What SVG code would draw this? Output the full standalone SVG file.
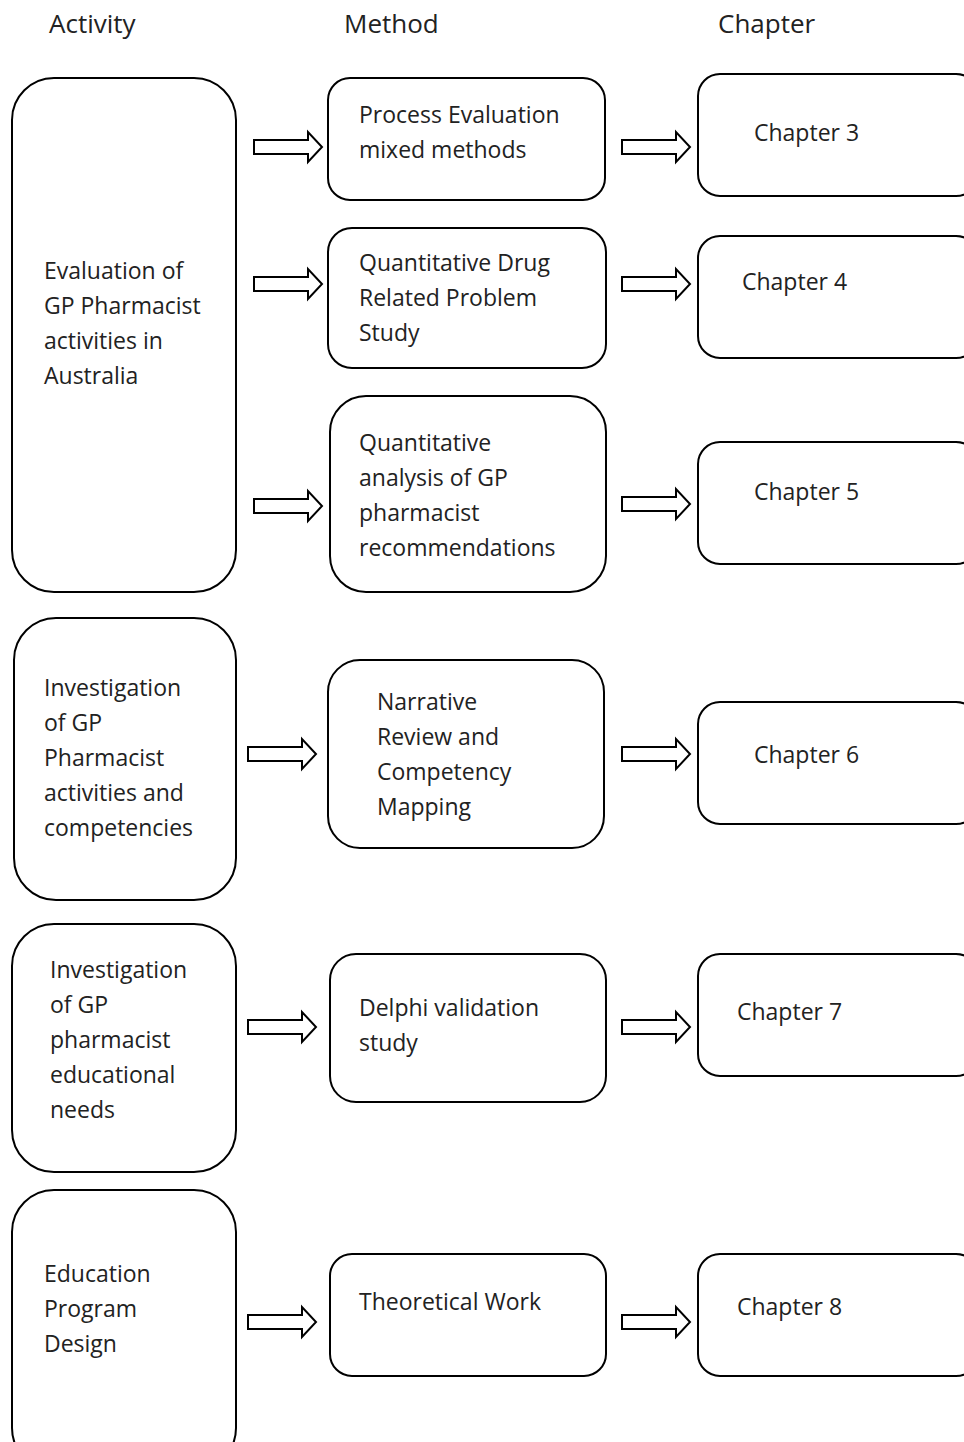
<svg xmlns="http://www.w3.org/2000/svg" width="964" height="1442" viewBox="0 0 964 1442">
<defs>
  <style>
    .box { fill: #fff; stroke: #000; stroke-width: 2; }
    .arr { fill: #fff; stroke: #000; stroke-width: 2; stroke-linejoin: miter; }
    text { font-family: "Open Sans", "Liberation Sans", sans-serif; font-size: 23px; fill: #222; }
    .hd { font-size: 26px; }
  </style>
  <!-- hollow block arrow, origin at the shaft's left end, centre line -->
  <path id="blk" class="arr" d="M0,-7 H54 V-15 L68,0 L54,15 V7 H0 Z"/>
</defs>
<rect width="964" height="1442" fill="#fff"/>

<g id="headers">
  <text class="hd" x="49" y="33">Activity</text>
  <text class="hd" x="344" y="33">Method</text>
  <text class="hd" x="718" y="33">Chapter</text>
</g>

<g id="connectors">
  <use href="#blk" x="254" y="147"/>
  <use href="#blk" x="254" y="284"/>
  <use href="#blk" x="254" y="506"/>
  <use href="#blk" x="248" y="754"/>
  <use href="#blk" x="248" y="1027"/>
  <use href="#blk" x="248" y="1322"/>
  <use href="#blk" x="622" y="147"/>
  <use href="#blk" x="622" y="284"/>
  <use href="#blk" x="622" y="504"/>
  <use href="#blk" x="622" y="754"/>
  <use href="#blk" x="622" y="1027"/>
  <use href="#blk" x="622" y="1322"/>
</g>

<g id="activity-1">
  <rect class="box" x="12" y="78" width="224" height="514" rx="42"/>
  <text x="44" y="279">Evaluation of</text>
  <text x="44" y="314">GP Pharmacist</text>
  <text x="44" y="349">activities in</text>
  <text x="44" y="384">Australia</text>
</g>
<g id="activity-2">
  <rect class="box" x="14" y="618" width="222" height="282" rx="42"/>
  <text x="44" y="696">Investigation</text>
  <text x="44" y="731">of GP</text>
  <text x="44" y="766">Pharmacist</text>
  <text x="44" y="801">activities and</text>
  <text x="44" y="836">competencies</text>
</g>
<g id="activity-3">
  <rect class="box" x="12" y="924" width="224" height="248" rx="42"/>
  <text x="50" y="978">Investigation</text>
  <text x="50" y="1013">of GP</text>
  <text x="50" y="1048">pharmacist</text>
  <text x="50" y="1083">educational</text>
  <text x="50" y="1118">needs</text>
</g>
<g id="activity-4">
  <rect class="box" x="12" y="1190" width="224" height="280" rx="42"/>
  <text x="44" y="1282">Education</text>
  <text x="44" y="1317">Program</text>
  <text x="44" y="1352">Design</text>
</g>

<g id="method-1">
  <rect class="box" x="328" y="78" width="277" height="122" rx="22"/>
  <text x="359" y="123">Process Evaluation</text>
  <text x="359" y="158">mixed methods</text>
</g>
<g id="method-2">
  <rect class="box" x="328" y="228" width="278" height="140" rx="24"/>
  <text x="359" y="271">Quantitative Drug</text>
  <text x="359" y="306">Related Problem</text>
  <text x="359" y="341">Study</text>
</g>
<g id="method-3">
  <rect class="box" x="330" y="396" width="276" height="196" rx="36"/>
  <text x="359" y="451">Quantitative</text>
  <text x="359" y="486">analysis of GP</text>
  <text x="359" y="521">pharmacist</text>
  <text x="359" y="556">recommendations</text>
</g>
<g id="method-4">
  <rect class="box" x="328" y="660" width="276" height="188" rx="32"/>
  <text x="377" y="710">Narrative</text>
  <text x="377" y="745">Review and</text>
  <text x="377" y="780">Competency</text>
  <text x="377" y="815">Mapping</text>
</g>
<g id="method-5">
  <rect class="box" x="330" y="954" width="276" height="148" rx="26"/>
  <text x="359" y="1016">Delphi validation</text>
  <text x="359" y="1051">study</text>
</g>
<g id="method-6">
  <rect class="box" x="330" y="1254" width="276" height="122" rx="22"/>
  <text x="359" y="1310">Theoretical Work</text>
</g>

<g id="chapter-3">
  <rect class="box" x="698" y="74" width="280" height="122" rx="22"/>
  <text x="754" y="141">Chapter 3</text>
</g>
<g id="chapter-4">
  <rect class="box" x="698" y="236" width="280" height="122" rx="22"/>
  <text x="742" y="290">Chapter 4</text>
</g>
<g id="chapter-5">
  <rect class="box" x="698" y="442" width="280" height="122" rx="22"/>
  <text x="754" y="500">Chapter 5</text>
</g>
<g id="chapter-6">
  <rect class="box" x="698" y="702" width="280" height="122" rx="22"/>
  <text x="754" y="763">Chapter 6</text>
</g>
<g id="chapter-7">
  <rect class="box" x="698" y="954" width="280" height="122" rx="22"/>
  <text x="737" y="1020">Chapter 7</text>
</g>
<g id="chapter-8">
  <rect class="box" x="698" y="1254" width="280" height="122" rx="22"/>
  <text x="737" y="1315">Chapter 8</text>
</g>
</svg>
